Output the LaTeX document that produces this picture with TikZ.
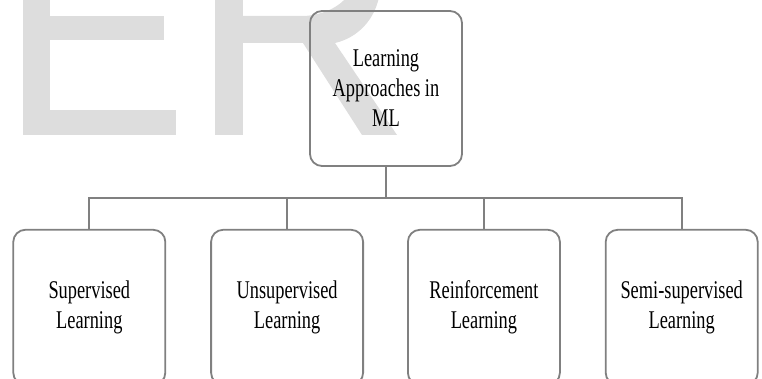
\documentclass[tikz,border=0pt]{standalone}
\usepackage{fontspec}
\setmainfont{Liberation Serif}[FakeStretch=0.72]
\usetikzlibrary{positioning}
\definecolor{boxgray}{RGB}{128,128,128}
\definecolor{markgray}{RGB}{221,221,221}
\tikzset{
  box/.style={draw=boxgray, line width=1.8pt, rounded corners=12pt,
    minimum width=152pt, minimum height=155pt, inner sep=0pt,
    align=center, font=\fontsize{25.5}{30}\selectfont},
  link/.style={draw=boxgray, line width=1.8pt},
  watermark/.style={fill=markgray, draw=none}
}
\begin{document}
\begin{tikzpicture}[x=1pt,y=1pt]
	\useasboundingbox (0,0) rectangle (762,-379);
	\clip (0,0) rectangle (762,-379);
	
	\fill[watermark] (23,10) rectangle (50,-135);
	\fill[watermark] (50,-16) rectangle (164,-40);
	\fill[watermark] (50,-110) rectangle (176,-135);
	\fill[watermark] (215,10) rectangle (243,-135);
	\fill[watermark] (243,-16) -- (305,-16)
		.. controls (330,-14) and (345,-2) .. (350,8) -- (380,8)
		.. controls (376,-20) and (357,-38) .. (335,-43)
		-- (397,-135) -- (362,-135) -- (303,-43) -- (243,-43) -- cycle;
	
	\node[box] (ml) at (386,-88.5) {Learning\\Approaches in\\ML};
	\node[box, below left = 62pt and 22pt of ml.south] (unsup) {Unsupervised\\Learning};
	\node[box, below right = 62pt and 21pt of ml.south] (reinf) {Reinforcement\\Learning};
	\node[box, left = 44pt of unsup] (sup) {Supervised\\Learning};
	\node[box, right = 44pt of reinf] (semi) {Semi-supervised\\Learning};
	
	\draw[link] (ml.south) -- ++(0,-31) coordinate (bus);
	\draw[link] (sup.north) -- (sup.north |- bus) -- (semi.north |- bus) -- (semi.north);
	\draw[link] (unsup.north) -- (unsup.north |- bus);
	\draw[link] (reinf.north) -- (reinf.north |- bus);
\end{tikzpicture}
\end{document}
